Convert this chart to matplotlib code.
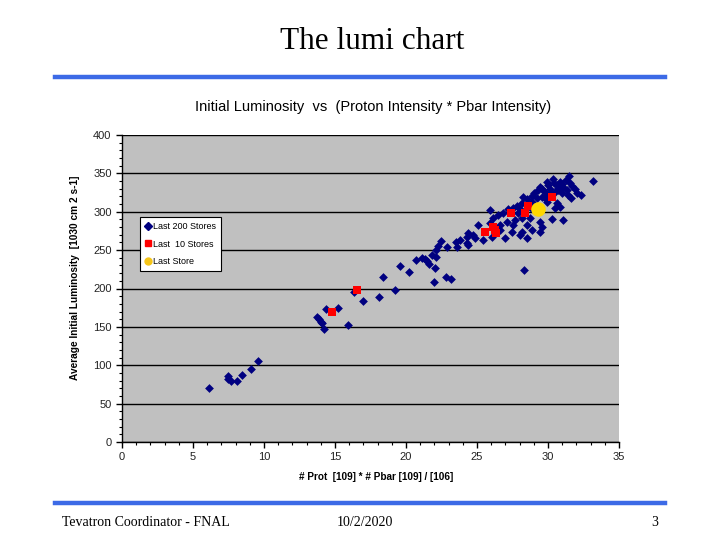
import matplotlib
matplotlib.use("Agg")
import matplotlib.pyplot as plt
from matplotlib.lines import Line2D
from matplotlib.ticker import MultipleLocator

# ---- data ----
last200_x = [6.13, 7.49, 7.49, 7.68, 8.07, 8.47, 9.06, 9.58,
             13.76, 13.87, 14.01, 14.11, 14.23, 14.39, 15.24, 15.94, 16.36, 17.0,
             18.1, 18.38, 19.23, 19.58, 20.21, 20.68, 21.15, 21.34, 21.5, 21.64,
             21.81, 22.11, 22.02, 21.95, 22.11, 22.28, 22.44, 22.84, 23.17, 22.86,
             23.5, 23.57, 23.8, 24.27, 24.39, 24.74, 24.86, 24.27, 24.39, 25.09,
             25.45, 25.92, 26.04, 26.15, 26.5, 26.62, 26.62, 26.86, 26.97, 27.09,
             27.44, 27.56, 27.68, 27.91, 28.03, 28.15, 28.15, 28.26, 28.31, 28.5,
             28.5, 28.73, 28.85, 28.85, 29.2, 29.44, 29.44, 29.44, 29.56, 29.56,
             29.79, 29.91, 29.95, 30.14, 30.26, 30.38, 30.49, 30.61, 30.61, 30.73,
             30.85, 30.85, 30.96, 31.08, 31.08, 31.32, 31.43, 31.5, 31.55, 32.02,
             33.15, 25.92,
             29.0, 29.3, 29.6, 30.0, 30.4, 30.7, 31.0, 31.3, 30.2, 29.8, 28.9,
             28.5, 28.2, 27.8, 27.5, 27.2, 28.0, 28.8, 29.9, 30.5, 31.7, 31.9,
             32.3, 31.6]
last200_y = [70.8, 86.0, 82.0, 79.5, 79.5, 86.9, 95.0, 105.5,
             162.4, 159.8, 156.8, 154.6, 147.7, 172.8, 174.1, 152.4, 195.8, 183.7,
             189.4, 215.0, 197.6, 229.7, 221.0, 237.0, 239.7, 238.4, 235.8, 231.9,
             243.6, 241.4, 226.7, 208.9, 250.0, 255.8, 261.9, 215.4, 212.4, 254.5,
             261.0, 254.5, 263.0, 258.9, 256.7, 269.7, 265.4, 267.5, 271.9, 282.7,
             263.2, 302.3, 267.5, 291.5, 295.8, 276.2, 282.7, 298.0, 265.4, 287.0,
             274.1, 282.7, 289.3, 298.0, 269.7, 291.5, 274.1, 319.6, 224.1, 282.7,
             265.4, 291.5, 313.1, 276.2, 317.5, 332.6, 287.0, 274.1, 319.6, 280.5,
             326.1, 313.1, 339.2, 329.2, 290.1, 342.3, 304.5, 334.9, 311.0, 328.3,
             339.2, 306.6, 324.0, 332.6, 289.3, 328.3, 321.8, 346.6, 337.1, 324.0,
             340.5, 285.0,
             325.0, 328.0, 330.0, 335.0, 337.0, 331.0, 336.0, 341.0, 323.0, 318.0,
             320.0, 316.0, 312.0, 308.0, 305.0, 303.0, 304.0, 305.0, 322.0, 326.0,
             334.0, 329.0, 322.0, 318.0]

last10_x = [14.81, 16.53, 25.56, 26.15, 26.34, 26.3, 27.4, 28.35, 28.61, 30.26]
last10_y = [169.0, 198.0, 274.1, 279.7, 272.7, 276.0, 298.0, 299.0, 308.0, 319.0]

last_x = [29.32]
last_y = [303.2]

legend_labels = ["Last 200 Stores", "Last  10 Stores", "Last Store"]

# ---- figure ----
fig = plt.figure(figsize=(7.2, 5.4), dpi=100)
fig.patch.set_facecolor("white")

sans = ["Liberation Sans Narrow", "Liberation Sans", "DejaVu Sans"]
serif = ["Liberation Serif", "DejaVu Serif"]

ax = fig.add_axes([122 / 720, 1 - 442 / 540, (619 - 122) / 720, (442 - 135) / 540])
ax.set_facecolor("#C0C0C0")
ax.set_xlim(0, 35)
ax.set_ylim(0, 400)

ax.yaxis.set_major_locator(MultipleLocator(50))
ax.yaxis.set_minor_locator(MultipleLocator(10))
ax.xaxis.set_major_locator(MultipleLocator(5))
ax.xaxis.set_minor_locator(MultipleLocator(1))
ax.grid(axis="y", which="major", color="black", linewidth=1.0)
ax.set_axisbelow(True)

for s in ["right", "top"]:
    ax.spines[s].set_visible(False)
for s in ["left", "bottom"]:
    ax.spines[s].set_color("black")
    ax.spines[s].set_linewidth(1.0)

ax.tick_params(axis="both", which="major", direction="out", length=4, width=1,
               labelsize=8, colors="black")
ax.tick_params(axis="both", which="minor", direction="out", length=2, width=0.8)
for lab in ax.get_xticklabels() + ax.get_yticklabels():
    lab.set_family(sans)
    lab.set_color("#222222")

ax.scatter(last200_x, last200_y, marker="D", s=20, color="#000080", linewidths=0, zorder=3)
ax.scatter(last10_x, last10_y, marker="s", s=40, color="#FF0000", linewidths=0, zorder=4)
ax.scatter(last_x, last_y, marker="o", s=110, color="#FFD700", linewidths=0, zorder=5)

ax.set_xlabel("# Prot  [109] * # Pbar [109] / [106]", fontsize=7.2, fontweight="bold",
              family=sans)
ax.xaxis.set_label_coords((376 - 122) / 497, (442 - 472) / 307)
ax.set_ylabel("Average Initial Luminosity  [1030 cm 2 s-1]", fontsize=7.3,
              fontweight="bold", family=sans)
ax.yaxis.set_label_coords((80 - 122) / 497, (442 - 278) / 307)

handles = [
    Line2D([], [], marker="D", linestyle="none", color="#000080", markersize=4),
    Line2D([], [], marker="s", linestyle="none", color="#FF0000", markersize=5),
    Line2D([], [], marker="o", linestyle="none", color="#F5C518", markersize=5),
]
leg = ax.legend(handles, legend_labels, loc="upper left",
                bbox_to_anchor=((140 - 122) / 497, (442 - 217) / 307),
                prop={"family": sans, "size": 6.5}, frameon=True, fancybox=False,
                handlelength=0.6, handletextpad=0.3, borderpad=0.55, labelspacing=0.95,
                borderaxespad=0)
leg.get_frame().set_edgecolor("black")
leg.get_frame().set_linewidth(0.8)
leg.get_frame().set_facecolor("white")
leg.get_frame().set_alpha(1)

# titles
fig.text(372 / 720, 1 - 42 / 540, "The lumi chart", ha="center", va="center",
         fontsize=22.5, family=serif)
fig.text(373 / 720, 1 - 107 / 540,
         "Initial Luminosity  vs  (Proton Intensity * Pbar Intensity)",
         ha="center", va="center", fontsize=10.5, family=sans)

# blue bars
fig.add_artist(Line2D([55 / 720, 665 / 720], [1 - 77 / 540, 1 - 77 / 540],
                      color="#3C6AE6", linewidth=3.2, transform=fig.transFigure))
fig.add_artist(Line2D([55 / 720, 665 / 720], [1 - 503 / 540, 1 - 503 / 540],
                      color="#3C6AE6", linewidth=3.2, transform=fig.transFigure))

# footer
fig.text(62 / 720, 1 - 522 / 540, "Tevatron Coordinator - FNAL", ha="left", va="center",
         fontsize=10, family=serif)
fig.text(365 / 720, 1 - 522 / 540, "10/2/2020", ha="center", va="center",
         fontsize=10, family=serif)
fig.text(658 / 720, 1 - 522 / 540, "3", ha="right", va="center",
         fontsize=10, family=serif)

fig.savefig("out.png", dpi=100)
